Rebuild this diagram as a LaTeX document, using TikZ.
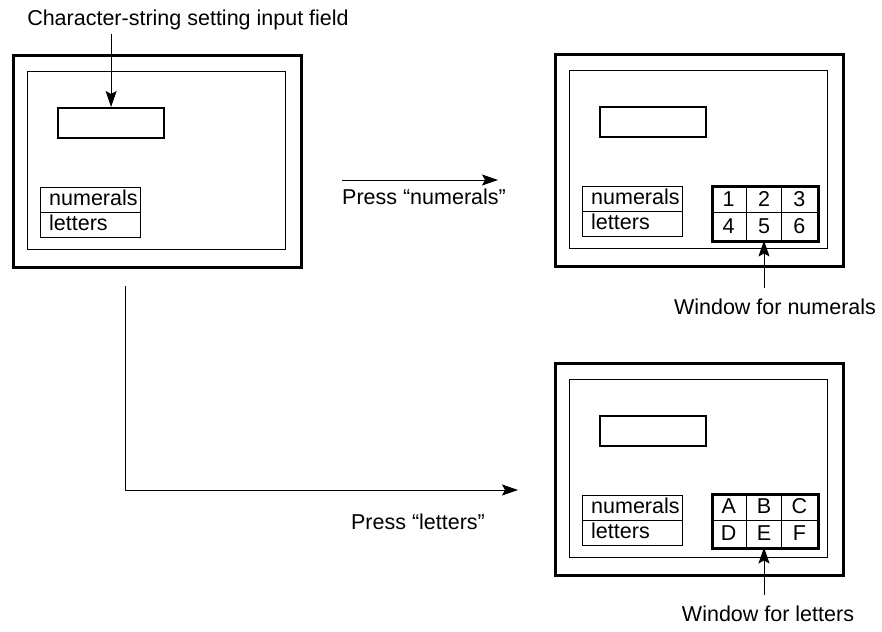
\documentclass[tikz,border=0pt]{standalone}
\usepackage{fontspec}
\setmainfont{Liberation Sans}
\usetikzlibrary{arrows.meta,positioning}

\begin{document}
\begin{tikzpicture}[x=1pt,y=-1pt,font=\fontsize{21.5}{25}\selectfont,
    box/.style={rectangle,draw,anchor=north west,inner sep=0pt},
    screen/.style={box,line width=3pt,minimum width=288pt,minimum height=212pt},
    panel/.style={box,line width=.9pt,minimum width=258pt,minimum height=178pt},
    field/.style={box,line width=2.2pt,minimum width=106pt,minimum height=30pt},
    button/.style={box,line width=.9pt,minimum width=100pt,minimum height=25pt},
    btntext/.style={inner sep=0pt,text height=15pt,text depth=4pt},
    window/.style={box,line width=2.5pt,minimum width=106pt,minimum height=55pt},
    cell/.style={rectangle,draw,line width=.9pt,inner sep=0pt,minimum width=35.33pt,minimum height=27.5pt},
    arr/.style={-{Stealth[length=16pt,width=11pt,inset=3pt]},line width=1pt}]

  \useasboundingbox (0,0) rectangle (882,631);

  % the three screens
  \foreach \p/\x/\y in {start/12/54,num/554/53,let/554/362}{
    \begin{scope}[shift={(\x,\y)}]
      \node[screen] (\p-screen) at (0,0) {};
      \node[panel] (\p-panel) at (15,17) {};
      \node[field] (\p-field) at (45,53) {};
      \node[button] (\p-numbtn) at (28,133) {};
      \node[button] (\p-letbtn) at (28,158) {};
      \node[btntext,right=9pt of \p-numbtn.west] (\p-numtxt) {numerals};
      \node[btntext,right=9pt of \p-letbtn.west] (\p-lettxt) {letters};
    \end{scope}
  }

  % keypad windows
  \foreach \t [count=\i from 0] in {1,...,6}{
    \pgfmathsetmacro\cx{711+mod(\i,3)*35.33+17.67}
    \pgfmathsetmacro\cy{185+int(\i/3)*27.5+13.75}
    \node[cell] (num-\t) at (\cx,\cy) {\t};
  }
  \node[window] (num-win) at (711,185) {};
  \foreach \t [count=\i from 0] in {A,B,C,D,E,F}{
    \pgfmathsetmacro\cx{711+mod(\i,3)*35.33+17.67}
    \pgfmathsetmacro\cy{493+int(\i/3)*27+13.5}
    \node[cell,minimum height=27pt] (let-\t) at (\cx,\cy) {\t};
  }
  \node[window,minimum height=54pt] (let-win) at (711,493) {};

  % labels
  \node (title) at (188,20) {Character-string setting input field};
  \node[anchor=north,inner ysep=11pt] (winnum) at (775,288) {Window for numerals};
  \node[anchor=north,inner ysep=11pt] (winlet) at (768,595) {Window for letters};
  \node (pressnum) at (424,197) {Press “numerals”};
  \node (presslet) at (418,522) {Press “letters”};

  \coordinate (n-from) at (342,180);
  \coordinate (n-to) at (498,180);
  \coordinate (l-from) at (125,286);
  \coordinate (l-to) at (518,490);

  \draw[arr] (title.south -| start-field.north) -- (start-field.north);
  \draw[arr] (winnum.north -| num-5.south) -- (num-5.south);
  \draw[arr] (winlet.north -| let-E.south) -- (let-E.south);
  \draw[arr] (n-from) -- (n-to);
  \draw[arr] (l-from) |- (l-to);
\end{tikzpicture}
\end{document}
